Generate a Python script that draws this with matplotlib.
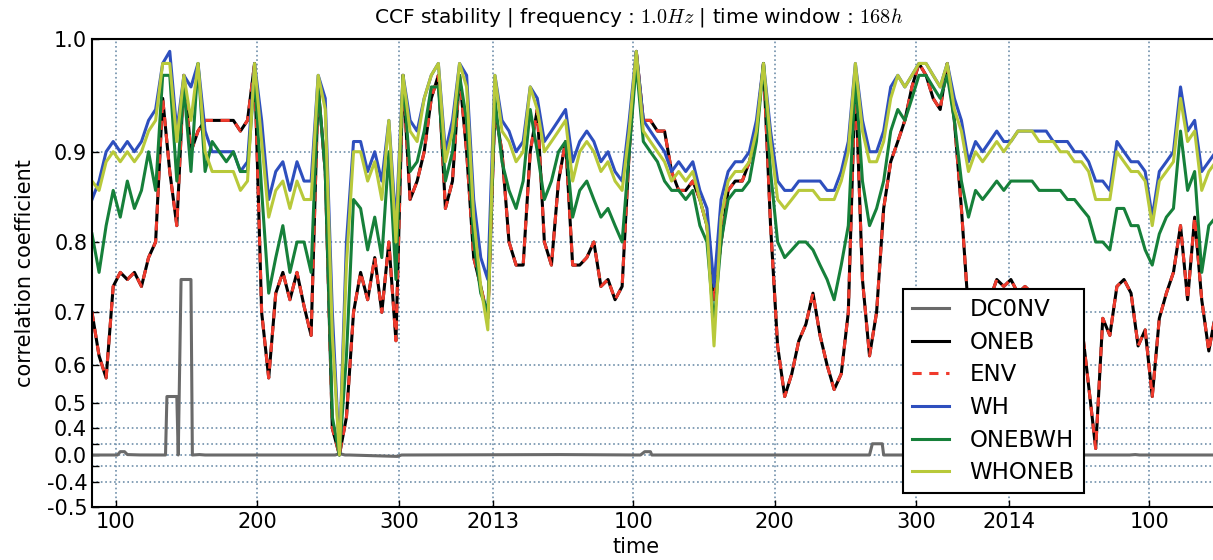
import numpy as np
import pandas as pd
import matplotlib
matplotlib.use('Agg')
import matplotlib.pyplot as plt
import matplotlib.dates as mdates
import matplotlib.ticker as mticker

# one value every 5 days starting 2012-03-23
start = '2012-03-23'

wh = [0.85, 0.87, 0.90, 0.91, 0.90, 0.91, 0.90, 0.91, 0.93, 0.94,
      0.98, 0.99, 0.92, 0.97, 0.96, 0.98, 0.92, 0.90, 0.90, 0.90,
      0.90, 0.88, 0.89, 0.98, 0.93, 0.85, 0.88, 0.89, 0.86, 0.89,
      0.87, 0.87, 0.97, 0.95, 0.70, 0.05, 0.80, 0.91, 0.91, 0.88,
      0.90, 0.87, 0.93, 0.82, 0.97, 0.93, 0.92, 0.95, 0.97, 0.98,
      0.90, 0.93, 0.98, 0.97, 0.85, 0.78, 0.75, 0.97, 0.93, 0.92,
      0.90, 0.91, 0.96, 0.95, 0.91, 0.92, 0.93, 0.94, 0.89, 0.91,
      0.92, 0.91, 0.89, 0.90, 0.88, 0.87, 0.93, 0.99, 0.93, 0.92,
      0.91, 0.90, 0.88, 0.89, 0.88, 0.89, 0.86, 0.84, 0.74, 0.85,
      0.88, 0.89, 0.89, 0.90, 0.93, 0.98, 0.92, 0.87, 0.86, 0.86,
      0.87, 0.87, 0.87, 0.87, 0.86, 0.86, 0.88, 0.91, 0.98, 0.93,
      0.90, 0.90, 0.92, 0.96, 0.97, 0.96, 0.97, 0.98, 0.98, 0.97,
      0.96, 0.98, 0.95, 0.93, 0.89, 0.91, 0.90, 0.91, 0.92, 0.91,
      0.91, 0.92, 0.92, 0.92, 0.92, 0.92, 0.91, 0.91, 0.91, 0.90,
      0.90, 0.89, 0.87, 0.87, 0.86, 0.91, 0.90, 0.89, 0.89, 0.88,
      0.83, 0.88, 0.89, 0.90, 0.96, 0.92, 0.93, 0.88, 0.89, 0.90]

onebwh = [0.81, 0.76, 0.82, 0.86, 0.83, 0.87, 0.84, 0.86, 0.90, 0.86,
          0.97, 0.97, 0.87, 0.96, 0.88, 0.98, 0.88, 0.91, 0.90, 0.89,
          0.90, 0.88, 0.88, 0.97, 0.86, 0.73, 0.78, 0.82, 0.76, 0.80,
          0.80, 0.76, 0.96, 0.88, 0.45, 0.01, 0.62, 0.85, 0.84, 0.79,
          0.83, 0.78, 0.90, 0.75, 0.97, 0.88, 0.89, 0.92, 0.96, 0.96,
          0.87, 0.90, 0.97, 0.93, 0.80, 0.73, 0.70, 0.95, 0.89, 0.86,
          0.84, 0.87, 0.94, 0.90, 0.85, 0.87, 0.90, 0.91, 0.83, 0.86,
          0.87, 0.85, 0.83, 0.84, 0.82, 0.80, 0.90, 0.98, 0.91, 0.90,
          0.89, 0.87, 0.86, 0.86, 0.85, 0.86, 0.82, 0.80, 0.68, 0.80,
          0.85, 0.86, 0.86, 0.87, 0.91, 0.98, 0.88, 0.80, 0.78, 0.79,
          0.80, 0.80, 0.79, 0.77, 0.75, 0.72, 0.77, 0.82, 0.97, 0.87,
          0.82, 0.84, 0.87, 0.92, 0.94, 0.93, 0.95, 0.97, 0.97, 0.96,
          0.95, 0.97, 0.93, 0.87, 0.83, 0.86, 0.85, 0.86, 0.87, 0.86,
          0.87, 0.87, 0.87, 0.87, 0.86, 0.86, 0.86, 0.86, 0.85, 0.85,
          0.84, 0.83, 0.80, 0.80, 0.79, 0.84, 0.84, 0.82, 0.82, 0.79,
          0.77, 0.81, 0.83, 0.84, 0.92, 0.86, 0.88, 0.76, 0.82, 0.83]

whoneb = [0.87, 0.86, 0.89, 0.90, 0.89, 0.90, 0.89, 0.90, 0.92, 0.93,
          0.98, 0.98, 0.91, 0.97, 0.93, 0.98, 0.90, 0.88, 0.88, 0.88,
          0.88, 0.86, 0.87, 0.98, 0.91, 0.83, 0.86, 0.87, 0.84, 0.87,
          0.85, 0.85, 0.97, 0.94, 0.66, 0.03, 0.77, 0.90, 0.90, 0.87,
          0.89, 0.85, 0.93, 0.80, 0.97, 0.92, 0.91, 0.95, 0.97, 0.98,
          0.89, 0.92, 0.98, 0.96, 0.83, 0.74, 0.67, 0.97, 0.92, 0.91,
          0.89, 0.90, 0.96, 0.94, 0.90, 0.91, 0.92, 0.93, 0.87, 0.90,
          0.91, 0.90, 0.88, 0.89, 0.87, 0.86, 0.92, 0.99, 0.92, 0.91,
          0.90, 0.89, 0.87, 0.88, 0.87, 0.88, 0.85, 0.82, 0.64, 0.83,
          0.87, 0.88, 0.88, 0.89, 0.92, 0.98, 0.91, 0.85, 0.84, 0.85,
          0.86, 0.86, 0.86, 0.85, 0.85, 0.85, 0.87, 0.90, 0.98, 0.92,
          0.89, 0.89, 0.91, 0.95, 0.97, 0.96, 0.97, 0.98, 0.98, 0.97,
          0.96, 0.98, 0.94, 0.92, 0.88, 0.90, 0.89, 0.90, 0.91, 0.90,
          0.91, 0.92, 0.92, 0.92, 0.91, 0.91, 0.91, 0.90, 0.90, 0.89,
          0.89, 0.88, 0.85, 0.85, 0.85, 0.90, 0.89, 0.88, 0.88, 0.87,
          0.82, 0.87, 0.88, 0.89, 0.95, 0.91, 0.92, 0.86, 0.88, 0.89]

# ENV sits exactly on top of ONEB
oneb = [0.70, 0.62, 0.57, 0.74, 0.76, 0.75, 0.76, 0.74, 0.78, 0.80,
        0.95, 0.88, 0.82, 0.97, 0.90, 0.92, 0.93, 0.93, 0.93, 0.93,
        0.93, 0.92, 0.93, 0.98, 0.70, 0.57, 0.73, 0.76, 0.72, 0.76,
        0.71, 0.66, 0.96, 0.88, 0.40, 0.01, 0.45, 0.70, 0.76, 0.72,
        0.78, 0.70, 0.80, 0.65, 0.97, 0.85, 0.87, 0.90, 0.95, 0.97,
        0.84, 0.87, 0.97, 0.90, 0.78, 0.74, 0.69, 0.94, 0.90, 0.80,
        0.77, 0.77, 0.90, 0.94, 0.80, 0.77, 0.87, 0.91, 0.77, 0.77,
        0.78, 0.80, 0.74, 0.75, 0.72, 0.74, 0.90, 0.99, 0.93, 0.93,
        0.92, 0.92, 0.88, 0.86, 0.86, 0.87, 0.85, 0.82, 0.72, 0.80,
        0.86, 0.87, 0.87, 0.89, 0.92, 0.98, 0.82, 0.64, 0.52, 0.58,
        0.65, 0.68, 0.73, 0.66, 0.60, 0.54, 0.58, 0.70, 0.97, 0.75,
        0.62, 0.70, 0.84, 0.89, 0.91, 0.93, 0.96, 0.98, 0.97, 0.95,
        0.94, 0.98, 0.93, 0.84, 0.70, 0.72, 0.68, 0.72, 0.75, 0.74,
        0.75, 0.73, 0.74, 0.73, 0.73, 0.72, 0.72, 0.71, 0.72, 0.70,
        0.68, 0.55, 0.25, 0.69, 0.66, 0.74, 0.75, 0.73, 0.64, 0.67,
        0.52, 0.69, 0.73, 0.76, 0.82, 0.72, 0.83, 0.72, 0.63, 0.70]
env = list(oneb)

# DC0NV: days after start and values (mostly flat at zero)
dc_days = [0, 18, 20, 23, 25, 34, 52, 53, 60, 61, 63, 70, 71, 76, 80, 172, 175,
           179, 182, 216, 219, 331, 388, 391, 395, 396, 550, 552, 559, 560,
           734, 738, 741, 805]
dc_vals = [0.0, 0.0, 0.2, 0.2, 0.1, 0.05, 0.0, 0.52, 0.52, 0.0, 0.75, 0.75,
           0.0, 0.1, 0.0, 0.0, 0.15, 0.0, 0.0, -0.15, 0.0, 0.1, 0.0, 0.2, 0.2,
           0.0, 0.0, 0.3, 0.3, 0.0, 0.0, 0.1, 0.0, 0.0]

ytick_vals = [-0.5, -0.4, -0.3, 0.0, 0.3, 0.4, 0.5, 0.6, 0.7, 0.8, 0.9, 1.0]
ytick_labels = ['-0.5', '-0.4', '', '0.0', '', '0.4', '0.5', '0.6', '0.7',
                '0.8', '0.9', '1.0']

plt.rcParams['mathtext.fontset'] = 'cm'

dates = pd.date_range(start, periods=len(wh), freq='5D')
dc_dates = pd.Timestamp(start) + pd.to_timedelta(dc_days, unit='D')

fig = plt.figure(figsize=(12.13, 5.6), dpi=100)
ax = fig.add_axes([92 / 1213., 53 / 560., 1138 / 1213., 468 / 560.])

lw = 2.2
ax.plot(dc_dates, dc_vals, color='#6a6a6a', lw=lw, label='DC0NV')
ax.plot(dates, oneb, color='k', lw=lw, label='ONEB')
ax.plot(dates, env, color='#f03a2c', lw=lw, ls='--', dashes=(3, 2.5), label='ENV')
ax.plot(dates, wh, color='#2e4fbe', lw=lw, label='WH')
ax.plot(dates, onebwh, color='#16803a', lw=lw, label='ONEBWH')
ax.plot(dates, whoneb, color='#b8c93a', lw=lw, label='WHONEB')

# cubic y axis
ax.set_yscale('function', functions=(lambda y: np.power(y, 3), np.cbrt))
ax.set_ylim(-0.5, 1.0)
ax.yaxis.set_major_locator(mticker.FixedLocator(ytick_vals))
ax.yaxis.set_major_formatter(mticker.FixedFormatter(ytick_labels))
ax.yaxis.set_minor_locator(mticker.NullLocator())

# x axis: day of year, with the year at Jan 1
x0 = pd.Timestamp(start)
ax.set_xlim(x0, x0 + pd.Timedelta(days=805))
xt = []
for yr in (2012, 2013, 2014):
    for doy in (1, 100, 200, 300):
        t = pd.Timestamp(yr, 1, 1) + pd.Timedelta(days=doy - 1)
        if x0 <= t <= x0 + pd.Timedelta(days=805):
            xt.append(mdates.date2num(t))
ax.xaxis.set_major_locator(mticker.FixedLocator(xt))


def doy_fmt(v, pos):
    d = mdates.num2date(v)
    if d.timetuple().tm_yday == 1:
        return str(d.year)
    return str(d.timetuple().tm_yday)


ax.xaxis.set_major_formatter(mticker.FuncFormatter(doy_fmt))

ax.tick_params(direction='in', labelsize=15, length=5, width=1)
ax.grid(True, color='#6f8faa', ls=':', lw=1.2)
for s in ax.spines.values():
    s.set_linewidth(1.5)

ax.set_xlabel('time', fontsize=15)
ax.xaxis.set_label_coords((636 - 92) / 1138., -0.065)
ax.set_ylabel('correlation coefficient', fontsize=15)
ax.yaxis.set_label_coords(-0.05, 0.5)
t = ax.set_title(r'CCF stability | frequency : $1.0Hz$ | time window : $168h$',
                 fontsize=14.5, pad=12)
t.set_x((639 - 92) / 1138.)

leg = ax.legend(loc='upper left', bbox_to_anchor=(903 / 1213., 1 - 289 / 560.),
                bbox_transform=fig.transFigure, borderaxespad=0, fontsize=16.5,
                handlelength=1.6, handletextpad=0.9, labelspacing=0.42,
                borderpad=0.4, fancybox=False, framealpha=1, edgecolor='k')
leg.get_frame().set_linewidth(1.5)

fig.savefig('out.png', dpi=100)
